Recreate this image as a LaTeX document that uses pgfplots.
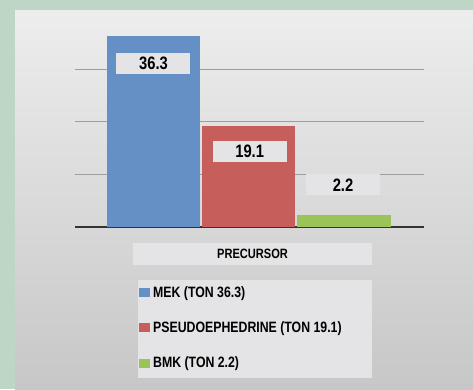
\documentclass[border=0pt]{standalone}
\usepackage{pgfplots}
\pgfplotsset{compat=1.18}
\usepackage{fontspec}
\setmainfont{Liberation Sans}[FakeStretch=0.82]
\definecolor{bggreen}{RGB}{189,214,197}
\definecolor{barblue}{RGB}{100,144,198}
\definecolor{barred}{RGB}{198,94,92}
\definecolor{bargreen}{RGB}{155,196,88}
\definecolor{boxgray}{RGB}{228,228,230}
\definecolor{leggray}{RGB}{228,228,230}
\begin{document}
\begin{tikzpicture}[x=1pt,y=1pt]
\fill[bggreen] (0,0) rectangle (473,389);
\shade[top color=black!7, middle color=black!10, bottom color=black!22] (15,0) rectangle (473,378);
% legend title and legend background
\fill[boxgray] (133,124) rectangle (372,146);
\node[font=\bfseries\fontsize{13.5}{13.5}\selectfont] at (252.5,135) {PRECURSOR};
\fill[leggray] (138,11) rectangle (372,109);
\begin{axis}[
  at={(75pt,162pt)}, anchor=south west,
  scale only axis, width=349pt, height=210.5pt,
  xmin=-0.824, xmax=2.84, ymin=0, ymax=40,
  axis line style={draw=none}, tick style={draw=none},
  xtick=\empty, ytick={10,20,30}, yticklabels={},
  ymajorgrids, grid style={black!38, line width=1.2pt},
  extra y ticks={0}, extra y tick labels={},
  extra y tick style={grid style={black!80, line width=2.6pt}},
  clip=false,
  sq/.style={legend image code/.code={\fill[##1] (0pt,-4.5pt) rectangle (11pt,4.5pt);}},
  legend style={at={(axis description cs:0.1834,-0.2803)}, anchor=north west,
    draw=none, fill=none, inner sep=0pt, row sep=23pt, column sep=3pt,
    font=\bfseries\fontsize{15}{15}\selectfont, nodes={inner sep=0pt}},
  legend cell align=left,
]
\addplot[ybar, bar shift=0, bar width=0.98, fill=barblue, draw=none, sq] coordinates {(0,36.3)};
\addlegendentry{MEK (TON 36.3)}
\addplot[ybar, bar shift=0, bar width=0.98, fill=barred, draw=none, sq] coordinates {(1,19.1)};
\addlegendentry{PSEUDOEPHEDRINE (TON 19.1)}
\addplot[ybar, bar shift=0, bar width=0.98, fill=bargreen, draw=none, sq] coordinates {(2,2.2)};
\addlegendentry{BMK (TON 2.2)}
\tikzset{lbl/.style={fill=boxgray, minimum width=74pt, minimum height=21pt, inner sep=0pt, font=\bfseries\fontsize{18}{18}\selectfont}}
\node[lbl] at (axis cs:0,31.1) {36.3};
\node[lbl] at (axis cs:1.01,14.3) {19.1};
\node[lbl] at (axis cs:1.99,8.0) {2.2};
\end{axis}
\end{tikzpicture}
\end{document}
